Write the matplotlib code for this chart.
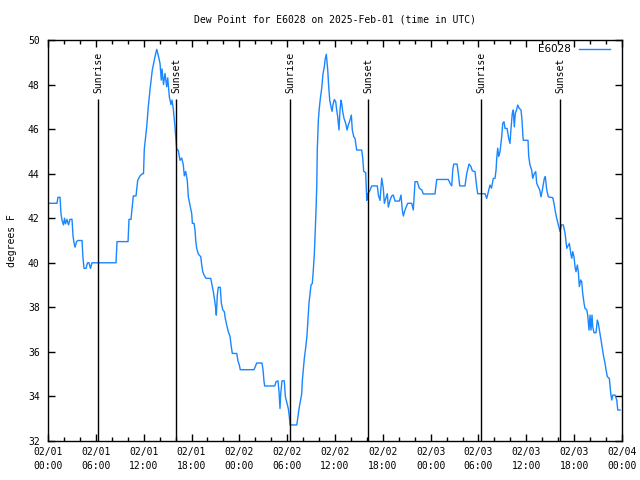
import matplotlib
matplotlib.use("Agg")
import matplotlib.pyplot as plt
from matplotlib.ticker import MultipleLocator

# hours since 2025-02-01 00:00 UTC
hours = [0.0, 1.13, 1.25, 1.51, 1.63, 1.76, 1.94, 2.07, 2.2, 2.38, 2.57, 2.76, 3.01, 3.14, 3.26, 3.39,
         3.58, 3.76, 4.27, 4.39, 4.52, 4.77, 4.96, 5.14, 5.33, 5.52, 5.9, 8.53, 8.66, 10.04, 10.16, 10.41,
         10.54, 10.7, 11.04, 11.25, 11.54, 11.83, 11.98, 12.08, 12.38, 12.58, 12.79, 13.08, 13.42, 13.64,
         13.84, 14.05, 14.21, 14.3, 14.49, 14.68, 14.89, 15.02, 15.22, 15.43, 15.55, 15.72, 15.93, 16.06,
         16.14, 16.34, 16.56, 16.77, 16.97, 17.1, 17.27, 17.47, 17.6, 17.81, 18.03, 18.11, 18.32, 18.44,
         18.53, 18.65, 18.85, 19.16, 19.28, 19.41, 19.57, 19.82, 20.41, 20.54, 20.74, 20.91, 21.04, 21.11,
         21.24, 21.36, 21.61, 21.74, 21.91, 22.12, 22.24, 22.42, 22.62, 22.83, 22.99, 23.12, 23.67, 23.83,
         24.0, 24.12, 25.84, 26.18, 26.84, 26.97, 27.1, 27.18, 28.44, 28.6, 28.85, 28.98, 29.1, 29.19,
         29.35, 29.64, 29.77, 29.94, 30.14, 30.27, 30.36, 31.2, 31.32, 31.49, 31.61, 31.82, 31.9, 32.03,
         32.15, 32.33, 32.49, 32.65, 32.74, 32.87, 32.99, 33.15, 33.28, 33.41, 33.53, 33.62, 33.71, 33.78,
         33.91, 34.03, 34.16, 34.33, 34.5, 34.66, 34.78, 34.91, 35.0, 35.09, 35.21, 35.34, 35.5, 35.63,
         35.75, 35.91, 36.09, 36.21, 36.34, 36.5, 36.63, 36.75, 36.84, 36.97, 37.13, 37.34, 37.51, 37.67,
         37.88, 38.05, 38.17, 38.35, 38.51, 38.72, 39.35, 39.48, 39.6, 39.85, 39.98, 40.11, 40.31, 40.61,
         41.31, 41.44, 41.65, 41.86, 42.06, 42.19, 42.38, 42.56, 42.69, 42.9, 43.11, 43.31, 43.53, 44.07,
         44.28, 44.44, 44.57, 44.78, 45.12, 45.62, 45.82, 46.04, 46.32, 46.58, 46.88, 47.08, 48.54, 48.76,
         50.21, 50.43, 50.64, 50.77, 50.89, 51.31, 51.47, 51.65, 52.31, 52.52, 52.81, 53.06, 53.22, 53.56,
         53.78, 53.9, 54.82, 55.03, 55.23, 55.44, 55.63, 55.86, 56.07, 56.2, 56.29, 56.41, 56.54, 56.7,
         56.91, 57.04, 57.2, 57.33, 57.58, 57.79, 57.95, 58.08, 58.24, 58.37, 58.49, 58.62, 58.77, 58.92,
         59.12, 59.33, 59.46, 59.55, 59.62, 60.21, 60.3, 60.46, 60.67, 60.8, 61.0, 61.18, 61.3, 61.5,
         61.68, 61.84, 62.01, 62.26, 62.38, 62.56, 62.76, 63.31, 63.47, 63.64, 63.81, 64.02, 64.23, 64.39,
         64.64, 64.86, 65.07, 65.4, 65.57, 65.7, 65.82, 65.98, 66.11, 66.23, 66.4, 66.52, 66.65, 66.82,
         66.95, 67.07, 67.24, 67.36, 67.57, 67.7, 67.86, 67.99, 68.11, 68.24, 68.33, 68.49, 68.74, 68.91,
         69.03, 69.24, 69.37, 69.53, 69.66, 69.87, 70.0, 70.16, 70.41, 70.59, 70.71, 70.84, 71.13, 71.34,
         71.47, 71.76]

dewpoint = [42.67, 42.67, 42.94, 42.94, 42.2, 41.9, 41.7, 42.0, 41.75, 41.95, 41.7, 41.95, 41.95, 41.2, 40.9, 40.7,
            40.95, 41.0, 41.0, 40.2, 39.75, 39.75, 40.0, 40.0, 39.75, 40.0, 40.0, 40.0, 40.95, 40.95, 41.95, 41.95,
            42.4, 43.0, 43.0, 43.7, 43.9, 44.0, 44.0, 45.1, 46.1, 47.0, 47.75, 48.65, 49.25, 49.58,
            49.3, 48.95, 48.2, 48.7, 48.0, 48.5, 47.9, 48.3, 47.45, 47.1, 47.3, 46.9, 46.1, 45.5,
            45.1, 45.05, 44.6, 44.7, 44.4, 43.9, 44.1, 43.7, 42.96, 42.6, 42.2, 41.77, 41.77, 41.47,
            41.0, 40.65, 40.4, 40.27, 39.9, 39.6, 39.45, 39.3, 39.3, 39.07, 38.7, 38.3, 37.95, 37.65,
            38.55, 38.9, 38.9, 38.2, 37.9, 37.8, 37.5, 37.2, 36.9, 36.7, 36.23, 35.93, 35.93, 35.6,
            35.4, 35.2, 35.2, 35.5, 35.5, 35.2, 34.66, 34.47, 34.47, 34.66, 34.7, 34.2, 33.46, 34.1,
            34.7, 34.7, 34.0, 33.76, 33.46, 33.1, 32.72, 32.72, 33.0, 33.46, 33.7, 34.1, 34.7, 35.2,
            35.7, 36.2, 36.76, 37.73, 38.2, 38.6, 39.0, 39.07, 39.67, 40.4, 41.47, 42.37, 43.4, 45.1,
            46.4, 46.93, 47.37, 47.83, 48.5, 48.8, 49.17, 49.36, 49.0, 48.65, 47.9, 47.3, 47.0, 46.8,
            47.1, 47.33, 47.23, 46.86, 46.56, 45.96, 46.86, 47.3, 47.16, 46.78, 46.48, 46.26, 45.96, 46.18,
            46.4, 46.63, 45.96, 45.66, 45.58, 45.06, 45.06, 44.7, 44.1, 44.05, 42.8, 43.1, 43.2, 43.45,
            43.45, 43.04, 42.8, 43.8, 43.34, 42.67, 42.9, 43.1, 42.5, 42.8, 43.0, 43.04, 42.77, 42.77,
            43.04, 42.37, 42.1, 42.37, 42.67, 42.67, 42.37, 43.64, 43.64, 43.34, 43.27, 43.09, 43.09, 43.74,
            43.74, 43.57, 43.45, 44.16, 44.43, 44.43, 44.01, 43.45, 43.45, 44.01, 44.43, 44.31, 44.13, 44.09,
            43.4, 43.1, 43.1, 42.89, 43.19, 43.49, 43.35, 43.79, 43.79, 44.16, 44.7, 45.14, 44.77, 44.99,
            45.66, 46.26, 46.33, 46.03, 46.03, 45.58, 45.36, 46.03, 46.71, 46.86, 46.1, 46.71, 46.86, 47.08,
            46.93, 46.86, 46.4, 45.8, 45.5, 45.5, 44.77, 44.39, 44.16, 43.79, 44.01, 44.09, 43.57, 43.4,
            43.27, 42.96, 43.27, 43.79, 43.87, 43.27, 42.96, 42.92, 42.67, 42.29, 42.0, 41.7, 41.4, 41.7,
            41.7, 41.32, 40.65, 40.87, 40.42, 40.2, 40.5, 40.27, 39.82, 39.6, 39.9, 39.6, 38.93, 39.23,
            39.15, 38.63, 38.18, 37.95, 37.9, 37.65, 36.98, 37.65, 36.98, 37.65, 37.13, 36.86, 36.86, 37.43,
            37.28, 36.83, 36.53, 36.16, 35.86, 35.49, 35.19, 34.89, 34.81, 34.13, 33.84, 34.06, 34.06, 33.84,
            33.39, 33.39]

sunrise_hours = [6.31, 30.38, 54.35]
sunset_hours = [16.1, 40.19, 64.28]
tick_hours = list(range(0, 73, 6))
tick_labels = ["02/01\n00:00", "02/01\n06:00", "02/01\n12:00", "02/01\n18:00",
               "02/02\n00:00", "02/02\n06:00", "02/02\n12:00", "02/02\n18:00",
               "02/03\n00:00", "02/03\n06:00", "02/03\n12:00", "02/03\n18:00",
               "02/04\n00:00"]

FONT = "DejaVu Sans Mono"
FS = 7
plt.rcParams['font.family'] = FONT

fig = plt.figure(figsize=(6.4, 4.8), dpi=100)
ax = fig.add_axes([48/640, 39/480, 574/640, 401/480])

ax.plot(hours, dewpoint, color='#1a86ff', lw=1.0, label='E6028')

line_top = 47.35
for t in sunrise_hours:
    ax.vlines(t, 32, line_top, color='black', lw=1.0)
    ax.text(t, line_top + 0.25, "Sunrise", rotation=90, ha='center', va='bottom', fontsize=FS)
for t in sunset_hours:
    ax.vlines(t, 32, line_top, color='black', lw=1.0)
    ax.text(t, line_top + 0.25, "Sunset", rotation=90, ha='center', va='bottom', fontsize=FS)

ax.set_xlim(0, 72)
ax.set_ylim(32, 50)
ax.set_xticks(tick_hours)
ax.set_xticklabels(tick_labels, fontsize=FS, linespacing=1.5)
ax.xaxis.set_minor_locator(MultipleLocator(2))
ax.set_yticks(range(32, 51, 2))
ax.tick_params(axis='y', labelsize=FS, pad=6)
ax.tick_params(which='major', direction='in', length=5, width=1, top=True, right=True)
ax.tick_params(which='minor', direction='in', length=3, width=1, top=True, right=True)
ax.tick_params(axis='x', pad=4)
for s in ax.spines.values():
    s.set_linewidth(1)

ax.set_ylabel("degrees F", fontsize=FS, labelpad=8)
fig.text(335/640, 1 - 19/480, "Dew Point for E6028 on 2025-Feb-01 (time in UTC)",
         ha='center', va='center', fontsize=FS)

leg = ax.legend(loc='center right', bbox_to_anchor=(562/574, 391.7/401), frameon=False,
                fontsize=FS, markerfirst=False, borderpad=0.0, borderaxespad=0.0,
                handlelength=3.0, handletextpad=0.72,
                prop={'family': 'DejaVu Sans', 'size': FS + 0.5})

fig.savefig("out.png", dpi=100)
